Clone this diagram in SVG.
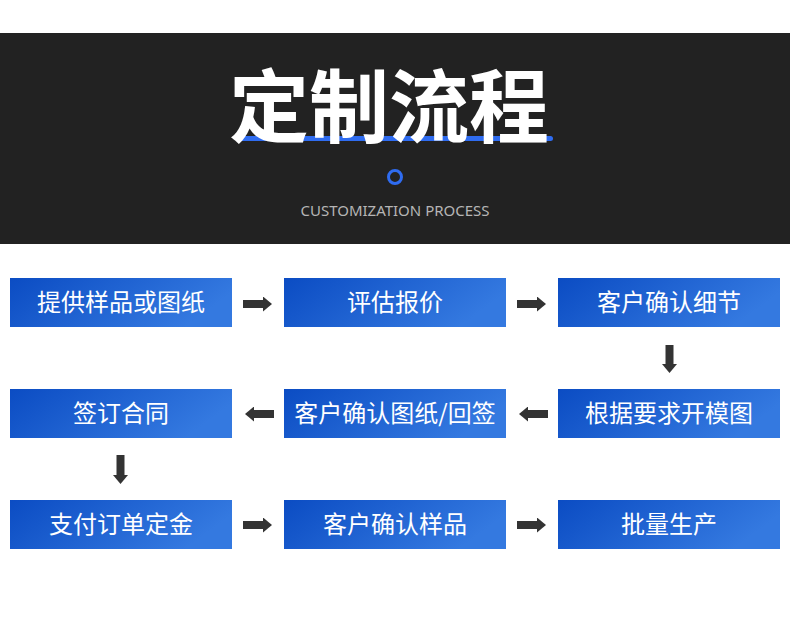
<svg xmlns="http://www.w3.org/2000/svg" width="790" height="636" viewBox="0 0 790 636">
<defs>
<linearGradient id="bg" x1="0" y1="0" x2="1" y2="0.3">
<stop offset="0" stop-color="#0b4cc3"/>
<stop offset="1" stop-color="#3479e0"/>
</linearGradient>
<marker id="ah" viewBox="0 0 9 15" refX="0" refY="7.5" markerWidth="9" markerHeight="15" markerUnits="userSpaceOnUse" orient="auto">
<path d="M0,0 L9,7.5 L0,15 z" fill="#333"/>
</marker>
</defs>
<style>
.box{fill:url(#bg)}
.lbl{fill:#fff;font-family:"Noto Sans CJK SC","Noto Sans",sans-serif;font-size:24px;text-anchor:middle}
.conn{stroke:#333;stroke-width:8;fill:none}
</style>
<rect x="0" y="0" width="790" height="636" fill="#fff"/>
<rect x="0" y="33" width="790" height="211" fill="#222"/>
<rect x="238" y="136" width="315" height="5" rx="2.5" fill="#2f6cf0"/>
<text x="389" y="136" font-family="Noto Sans CJK SC,sans-serif" font-weight="bold" font-size="80" fill="#fff" text-anchor="middle">定制流程</text>
<circle cx="395" cy="177" r="6.5" fill="none" stroke="#2f6cf0" stroke-width="3"/>
<text x="395" y="216" font-family="Noto Sans,sans-serif" font-size="15" fill="#b5b5b5" text-anchor="middle">CUSTOMIZATION PROCESS</text>

<g id="connectors">
<path class="conn" d="M243,304 H263" marker-end="url(#ah)"/>
<path class="conn" d="M517,304 H537" marker-end="url(#ah)"/>
<path class="conn" d="M669.5,345 V364" marker-end="url(#ah)"/>
<path class="conn" d="M548,414 H528" marker-end="url(#ah)"/>
<path class="conn" d="M274,414 H254" marker-end="url(#ah)"/>
<path class="conn" d="M120.5,455 V475" marker-end="url(#ah)"/>
<path class="conn" d="M243,525 H263" marker-end="url(#ah)"/>
<path class="conn" d="M517,525 H537" marker-end="url(#ah)"/>
</g>

<g id="n1"><rect class="box" x="10" y="278" width="222" height="49"/><text class="lbl" x="121" y="311">提供样品或图纸</text></g>
<g id="n2"><rect class="box" x="284" y="278" width="222" height="49"/><text class="lbl" x="395" y="311">评估报价</text></g>
<g id="n3"><rect class="box" x="558" y="278" width="222" height="49"/><text class="lbl" x="669" y="311">客户确认细节</text></g>
<g id="n4"><rect class="box" x="558" y="389" width="222" height="49"/><text class="lbl" x="669" y="422">根据要求开模图</text></g>
<g id="n5"><rect class="box" x="284" y="389" width="222" height="49"/><text class="lbl" x="395" y="422">客户确认图纸/回签</text></g>
<g id="n6"><rect class="box" x="10" y="389" width="222" height="49"/><text class="lbl" x="121" y="422">签订合同</text></g>
<g id="n7"><rect class="box" x="10" y="500" width="222" height="49"/><text class="lbl" x="121" y="533">支付订单定金</text></g>
<g id="n8"><rect class="box" x="284" y="500" width="222" height="49"/><text class="lbl" x="395" y="533">客户确认样品</text></g>
<g id="n9"><rect class="box" x="558" y="500" width="222" height="49"/><text class="lbl" x="669" y="533">批量生产</text></g>
</svg>
